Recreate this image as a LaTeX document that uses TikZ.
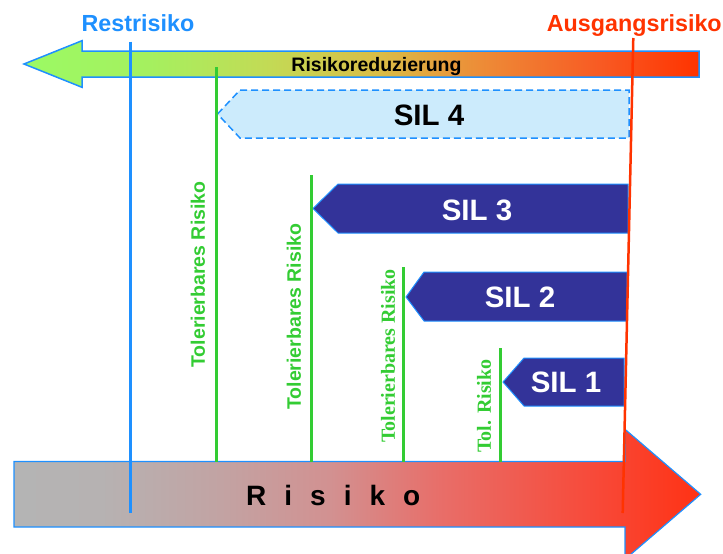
\documentclass[tikz,border=0pt]{standalone}
\usepackage{fontspec}
\setmainfont{Liberation Sans}
\newfontfamily\tolserif{Liberation Serif}

\definecolor{edgeblue}{RGB}{30,144,255}
\definecolor{silblue}{RGB}{51,51,153}
\definecolor{silfourfill}{RGB}{204,235,252}
\definecolor{tolgreen}{RGB}{51,204,51}
\definecolor{startred}{RGB}{255,51,0}

% colour stops of the reduction arrow (green -> orange -> red)
\definecolor{rA}{RGB}{155,250,100}
\definecolor{rB}{RGB}{165,240,95}
\definecolor{rC}{RGB}{195,218,85}
\definecolor{rD}{RGB}{218,188,70}
\definecolor{rE}{RGB}{237,140,55}
\definecolor{rF}{RGB}{248,90,35}
\definecolor{rG}{RGB}{255,51,0}
\pgfdeclarehorizontalshading{reduction}{100bp}{
  color(0bp)=(rA); color(25bp)=(rA); color(34.3bp)=(rB); color(43.2bp)=(rC);
  color(51.4bp)=(rD); color(58.8bp)=(rE); color(67.7bp)=(rF);
  color(75bp)=(rG); color(100bp)=(rG)}

% colour stops of the risk arrow (grey -> red)
\definecolor{kA}{RGB}{180,180,180}
\definecolor{kB}{RGB}{182,178,178}
\definecolor{kC}{RGB}{194,163,163}
\definecolor{kD}{RGB}{210,145,145}
\definecolor{kE}{RGB}{232,110,105}
\definecolor{kF}{RGB}{248,72,55}
\definecolor{kG}{RGB}{255,50,20}
\pgfdeclarehorizontalshading{riskgrad}{100bp}{
  color(0bp)=(kA); color(25bp)=(kA); color(31.3bp)=(kB); color(40bp)=(kC);
  color(48bp)=(kD); color(56bp)=(kE); color(67.7bp)=(kF);
  color(75bp)=(kG); color(100bp)=(kG)}

\tikzset{
  silbox/.style={draw=edgeblue, line width=1pt, fill=silblue, line join=miter},
  silfourbox/.style={draw=edgeblue, line width=1.5pt, dash pattern=on 7pt off 4pt, fill=silfourfill},
  siltext/.style={inner sep=0pt, anchor=base, font=\fontsize{29.5}{30}\selectfont\bfseries},
  tolline/.style={draw=tolgreen, line width=3pt},
  tollabel/.style={inner sep=0pt, rotate=90, text=tolgreen},
  tolsans/.style={tollabel, font=\fontsize{19.5}{20}\selectfont\bfseries},
  tolrm/.style={tollabel, font=\tolserif\fontsize{20}{21}\selectfont\bfseries},
  headtext/.style={inner sep=0pt, anchor=base, font=\fontsize{23.3}{24}\selectfont\bfseries}
}

\begin{document}
\begin{tikzpicture}[x=1pt,y=-1pt]
\useasboundingbox (0,0) rectangle (723,554);

% risk reduction arrow (pointing left)
\draw[edgeblue, line width=1.5pt, shading=reduction]
  (24,64) -- (82,40.7) -- (82,51) -- (699,51) -- (699,77) -- (82,77) -- (82,87.3) -- cycle;

% risk arrow (pointing right)
\draw[edgeblue, line width=1.2pt, shading=riskgrad]
  (14,461.5) -- (625,461.5) -- (625,429.3) -- (700.7,494.3) -- (625,559.3) -- (625,527) -- (14,527) -- cycle;

% SIL bars
\draw[silfourbox] (217.5,114) -- (240,90) -- (629,90) -- (629,138) -- (240,138) -- cycle;
\draw[silbox] (313,208.5) -- (338,184) -- (628,184) -- (628,233) -- (338,233) -- cycle;
\draw[silbox] (406,297) -- (424,272) -- (627,272) -- (627,321) -- (424,321) -- cycle;
\draw[silbox] (503,382) -- (524,358) -- (624,358) -- (624,406) -- (524,406) -- cycle;

% tolerable risk limits
\coordinate (tA) at (216,67);    \coordinate (bA) at (216,461.5);
\coordinate (tB) at (311,175);   \coordinate (bB) at (311,461.5);
\coordinate (tC) at (403.5,267); \coordinate (bC) at (403.5,461.5);
\coordinate (tD) at (500,348);   \coordinate (bD) at (500,461.5);
\draw[tolline] (tA) -- (bA);
\draw[tolline] (tB) -- (bB);
\draw[tolline] (tC) -- (bC);
\draw[tolline] (tD) -- (bD);

% residual risk and initial risk markers
\coordinate (restTop) at (130,41.5);
\coordinate (restBot) at (130,513);
\draw[edgeblue, line width=3pt] (restTop) -- (restBot);
\coordinate (initTop) at (633.3,38);
\coordinate (initBot) at (622.7,513);
\draw[startred, line width=2.5pt] (initTop) -- (initBot);

% texts
\node[headtext, text=edgeblue] (rest) at (138,31.7) {Restrisiko};
\node[headtext, text=startred] (init) at (634.3,31.7) {Ausgangsrisiko};
\node[inner sep=0pt, anchor=base, font=\fontsize{19.5}{20}\selectfont\bfseries] (reduce) at (376.5,71.7) {Risikoreduzierung};

\node[siltext] (sil4) at (429,125.3) {SIL 4};
\node[siltext, text=white] (sil3) at (477,220) {SIL 3};
\node[siltext, text=white] (sil2) at (520,307.3) {SIL 2};
\node[siltext, text=white] (sil1) at (566,392.3) {SIL 1};

\node[tolsans] (tolA) at (198,274.5) {Tolerierbares Risiko};
\node[tolsans] (tolB) at (294,316.7) {Tolerierbares Risiko};
\node[tolrm] (tolC) at (388,356) {Tolerierbares Risiko};
\node[tolrm] (tolD) at (484,406) {Tol. Risiko};

\node[inner sep=0pt, anchor=base west, font=\fontsize{28}{29}\selectfont\bfseries] (risk) at (246,505)
  {R\hspace{18pt}i\hspace{18pt}s\hspace{18pt}i\hspace{18pt}k\hspace{18pt}o};
\end{tikzpicture}
\end{document}
